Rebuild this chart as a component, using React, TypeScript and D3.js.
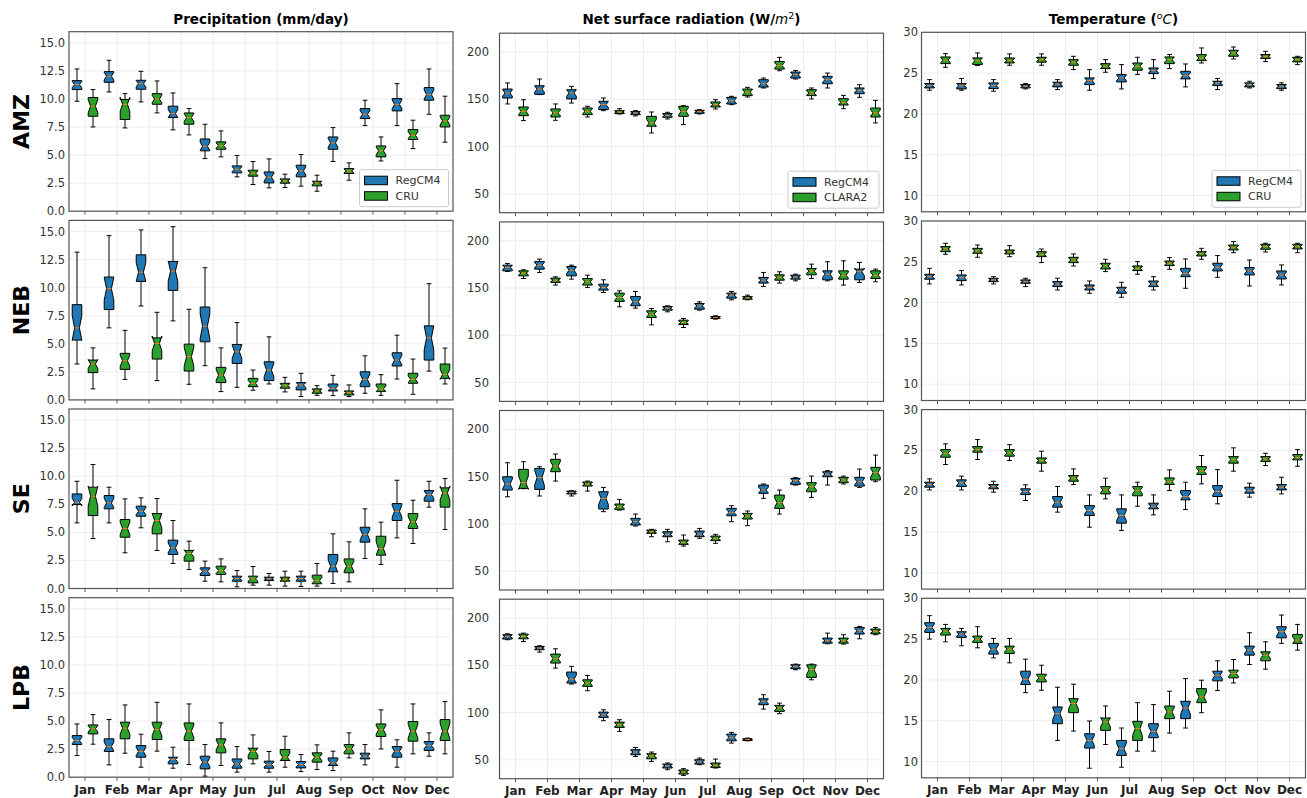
import React from "react";
import * as d3 from "d3";

// ---------- data: each box = [whisker low, q1, median, q3, whisker high] ----------
const months = ["Jan", "Feb", "Mar", "Apr", "May", "Jun", "Jul", "Aug", "Sep", "Oct", "Nov", "Dec"];
const regions = ["AMZ", "NEB", "SE", "LPB"];
const colTitles = ["Precipitation (mm/day)", "Net surface radiation", "Temperature"];
const modelName = "RegCM4";
const obsNames = ["CRU", "CLARA2", "CRU"];
const precipTicks = [0, 2.5, 5, 7.5, 10, 12.5, 15];
const radTicks = [50, 100, 150, 200];
const tempTicks = [10, 15, 20, 25, 30];
const nYears = 20;

const prAMZ_reg = [[9.8,10.84,11.29,11.64,12.68],[10.63,11.49,12.03,12.44,13.45],[9.74,10.87,11.37,11.67,12.47],[7.25,8.35,8.7,9.36,10.54],[4.69,5.38,5.79,6.44,7.75],[3.06,3.42,3.74,4.04,4.96],[2.08,2.52,3.03,3.5,4.66],[2.23,3.06,3.59,4.1,5.05],[4.43,5.52,6.09,6.62,7.45],[7.63,8.26,8.64,9.15,9.89],[7.63,8.94,9.53,10.04,11.37],[8.64,9.89,10.4,11.02,12.68]];
const prAMZ_obs = [[7.51,8.46,9.36,10.13,10.84],[7.42,8.17,9.53,9.95,10.48],[8.76,9.53,10.0,10.48,11.61],[6.8,7.75,8.35,8.76,9.15],[4.84,5.52,5.85,6.18,7.16],[2.38,3.12,3.39,3.65,4.43],[2.11,2.49,2.7,2.88,3.3],[1.78,2.26,2.52,2.67,3.21],[2.76,3.36,3.59,3.8,4.31],[4.48,4.84,5.38,5.82,6.62],[5.58,6.39,6.77,7.28,8.11],[6.15,7.51,8.05,8.55,10.25]];
const prNEB_reg = [[3.2,5.33,6.42,8.49,13.17],[6.42,8.05,9.91,10.95,14.64],[8.37,10.56,11.39,12.93,15.15],[7.04,9.76,11.48,12.34,15.44],[3.05,5.18,6.57,8.28,11.78],[1.12,3.25,4.29,4.94,6.89],[1.42,1.72,2.66,3.4,5.62],[0.3,0.89,1.33,1.54,2.37],[0.38,0.8,1.04,1.42,2.19],[0.59,1.18,1.83,2.51,3.93],[1.86,3.02,3.55,4.2,5.77],[2.57,3.55,5.53,6.6,10.36]];
const prNEB_obs = [[0.98,2.43,3.2,3.55,4.64],[1.83,2.72,3.49,4.15,6.2],[1.72,3.64,5.03,5.53,7.81],[1.39,2.57,3.85,4.97,8.08],[0.74,1.54,2.22,2.9,4.64],[0.86,1.18,1.48,1.92,2.66],[0.71,1.04,1.27,1.48,2.01],[0.41,0.59,0.8,0.98,1.27],[0.3,0.44,0.65,0.8,1.33],[0.41,0.74,0.98,1.42,2.25],[0.5,1.48,1.83,2.37,3.64],[1.42,1.92,2.28,3.2,4.62]];
const prSE_reg = [[5.85,7.48,7.69,8.43,9.56],[5.85,7.1,7.63,8.29,9.03],[5.41,6.44,6.89,7.34,8.08],[2.23,3.03,3.62,4.31,6.06],[0.65,1.16,1.54,1.84,2.44],[0.15,0.65,0.89,1.1,1.6],[0.3,0.71,0.86,1.01,1.34],[0.18,0.65,0.89,1.1,1.54],[0.45,1.49,1.99,3.03,4.87],[2.67,4.13,4.81,5.46,7.1],[4.51,6.06,6.89,7.57,9.65],[7.25,7.78,8.38,8.73,9.56]];
const prSE_obs = [[4.45,6.5,8.23,9.03,11.05],[3.18,4.57,5.35,6.15,7.99],[3.39,4.87,6.06,6.68,8.02],[1.69,2.44,3.12,3.39,4.22],[0.59,1.25,1.6,1.99,2.64],[0.3,0.5,0.86,1.1,1.96],[0.21,0.65,0.83,1.01,1.54],[0.21,0.42,0.71,1.19,2.23],[0.59,1.4,1.99,2.64,4.16],[2.14,2.97,3.56,4.66,5.91],[4.01,5.35,5.94,6.68,7.87],[5.26,7.25,8.52,8.97,9.8]];
const prLPB_reg = [[1.93,2.91,3.27,3.71,4.75],[1.1,2.29,2.73,3.42,5.14],[0.89,1.78,2.29,2.82,3.83],[0.8,1.19,1.57,1.78,2.67],[0.09,0.74,1.34,1.87,2.91],[0.45,0.8,1.19,1.63,2.73],[0.45,0.8,1.13,1.43,2.29],[0.5,0.83,1.13,1.4,2.02],[0.59,1.04,1.28,1.72,2.32],[1.1,1.63,1.87,2.14,2.91],[0.89,1.78,2.32,2.73,3.33],[1.87,2.38,2.82,3.18,3.95]];
const prLPB_obs = [[2.94,3.86,4.31,4.66,5.58],[2.14,3.42,4.37,4.9,6.44],[2.32,3.36,4.25,4.9,6.68],[1.13,3.27,4.1,4.84,6.53],[1.04,2.17,2.88,3.42,4.84],[1.19,1.63,2.29,2.58,3.77],[0.89,1.49,1.78,2.47,3.65],[0.68,1.34,1.78,2.17,2.88],[1.72,2.08,2.52,2.91,3.95],[2.52,3.62,4.22,4.75,6.0],[2.08,3.21,4.1,4.96,6.53],[2.08,3.27,4.1,5.14,6.74]];

const rnAMZ_reg = [[145.1,151.4,156.7,160.9,167.3],[155.0,155.3,160.9,164.4,171.5],[146.1,150.4,156.7,160.2,163.7],[138.0,139.1,144.4,147.9,151.4],[132.4,133.8,135.6,137.0,138.0],[129.2,131.0,133.1,134.9,136.3],[134.5,135.2,137.0,138.4,139.1],[144.4,145.1,148.6,152.1,153.2],[162.0,163.0,166.5,170.8,172.5],[171.5,172.5,176.1,178.9,180.6],[162.0,166.5,170.8,174.3,177.8],[152.1,156.0,159.5,162.0,165.5]];
const rnAMZ_obs = [[127.5,132.7,137.3,141.9,149.6],[127.8,131.3,135.6,139.8,145.1],[131.3,133.8,137.3,140.8,142.6],[134.5,134.9,136.6,138.0,140.1],[114.4,121.5,125.0,132.0,136.6],[123.2,132.0,137.3,142.6,143.3],[139.8,141.9,144.4,147.2,149.6],[152.5,153.9,157.4,160.9,162.7],[180.3,182.0,185.9,190.1,194.4],[150.4,153.9,156.7,160.2,162.0],[140.1,144.0,146.8,150.7,154.2],[125.0,131.3,135.6,140.8,148.9]];
const rnNEB_reg = [[167.5,168.2,171.8,174.2,176.0],[166.5,170.0,174.2,178.1,180.6],[159.4,162.9,168.9,172.8,174.2],[145.3,147.8,150.6,154.1,158.7],[128.7,131.2,135.4,141.1,146.3],[124.8,126.6,128.7,130.5,131.2],[126.6,127.6,131.2,133.6,135.4],[137.5,139.3,142.5,144.6,146.3],[151.6,155.2,158.3,161.2,166.5],[157.6,159.4,161.5,163.6,164.7],[157.6,158.7,164.7,168.2,177.8],[155.9,158.7,167.2,170.0,177.1]];
const rnNEB_obs = [[160.1,162.9,165.8,168.2,169.3],[153.1,155.9,158.3,160.5,161.9],[150.6,153.1,156.6,160.1,163.6],[130.1,135.8,140.0,144.6,147.1],[111.0,118.8,122.3,125.9,128.3],[108.2,111.4,113.5,116.0,117.8],[117.1,117.8,118.8,119.9,120.6],[137.5,138.2,139.6,141.1,142.5],[155.2,158.3,161.2,164.0,167.2],[160.1,164.0,167.9,170.7,175.3],[153.1,159.4,163.6,168.2,178.8],[156.6,160.1,163.6,168.2,170.0]];
const rnSE_reg = [[128.7,135.8,142.2,149.9,164.7],[129.5,136.5,148.9,158.7,160.5],[129.5,131.6,133.3,134.7,135.1],[112.9,115.7,127.0,134.0,138.6],[97.7,98.8,102.3,105.8,110.4],[81.1,86.4,88.9,91.7,94.2],[84.7,86.4,89.2,92.4,95.2],[102.3,108.6,112.2,116.4,119.2],[127.0,132.3,135.8,141.1,142.2],[141.1,141.8,145.7,148.1,148.9],[141.1,149.9,152.7,155.2,156.3],[138.6,140.0,144.6,149.2,158.0]];
const rnSE_obs = [[137.2,137.6,143.6,157.7,165.8],[145.3,155.2,161.2,168.3,173.9],[134.7,140.0,142.2,144.3,145.3],[114.6,115.3,118.2,121.0,125.9],[86.4,90.0,91.7,93.5,94.2],[76.5,78.3,80.4,82.9,88.2],[79.4,82.2,84.7,87.1,88.9],[98.1,105.1,108.3,111.1,113.6],[110.4,116.4,122.4,130.5,135.8],[128.0,134.0,139.3,143.6,150.6],[142.2,143.6,146.4,149.2,150.6],[144.6,146.4,154.1,159.8,172.8]];
const rnLPB_reg = [[177.1,177.8,180.6,182.4,183.4],[164.0,166.5,168.3,170.0,170.7],[130.2,131.2,135.4,142.9,148.9],[91.4,94.9,97.7,100.5,103.0],[53.6,55.4,58.2,60.7,63.1],[39.5,41.3,43.7,45.5,46.6],[44.8,45.5,47.6,50.1,51.8],[67.7,70.1,73.7,77.2,79.0],[103.7,108.3,111.8,114.6,118.9],[145.3,146.4,148.9,150.6,151.3],[172.8,173.5,176.0,178.8,184.1],[178.1,183.1,186.6,190.1,191.2]];
const rnLPB_obs = [[175.3,178.1,180.6,183.1,184.1],[147.1,152.4,157.0,161.9,167.5],[123.1,127.7,131.2,134.7,139.3],[80.1,84.3,87.1,89.9,92.4],[48.3,51.1,54.3,56.4,58.2],[33.5,34.9,37.0,39.2,40.6],[41.3,42.0,44.1,46.6,50.8],[70.1,70.5,71.6,72.3,73.0],[98.8,101.2,104.8,107.6,110.0],[134.7,137.2,145.3,150.6,151.3],[172.5,173.5,176.0,178.8,182.4],[182.4,183.4,185.9,188.4,190.1]];

const tAMZ_reg = [[22.9,23.18,23.47,23.71,24.2],[22.9,23.06,23.47,23.71,24.33],[22.78,23.1,23.47,23.8,24.2],[23.06,23.18,23.39,23.59,23.71],[22.98,23.31,23.67,23.88,24.2],[22.9,23.59,24.08,24.41,25.43],[23.06,23.92,24.41,24.82,26.04],[24.33,24.94,25.31,25.63,26.65],[23.31,24.29,24.69,25.22,26.12],[22.98,23.47,23.8,24.0,24.33],[23.18,23.31,23.59,23.8,24.0],[22.9,23.1,23.39,23.59,23.8]];
const tAMZ_obs = [[25.71,26.16,26.57,26.98,27.39],[25.92,26.04,26.53,26.86,27.47],[25.96,26.24,26.53,26.86,27.35],[25.96,26.33,26.65,26.94,27.35],[25.43,25.96,26.33,26.65,27.06],[25.1,25.55,25.84,26.16,26.65],[24.82,25.35,25.84,26.24,26.94],[25.55,26.16,26.65,26.98,27.27],[26.24,26.53,26.86,27.27,28.08],[26.73,27.06,27.47,27.8,28.2],[26.41,26.78,27.06,27.27,27.67],[26.04,26.37,26.65,26.94,27.06]];
const tNEB_reg = [[22.29,22.86,23.18,23.47,24.2],[22.16,22.69,23.06,23.39,23.92],[22.29,22.57,22.78,22.98,23.18],[21.96,22.37,22.57,22.78,22.98],[21.55,21.96,22.29,22.57,22.98],[21.14,21.55,21.84,22.16,22.65],[20.65,21.14,21.55,21.88,22.49],[21.55,21.96,22.29,22.65,23.18],[21.76,23.18,23.59,24.2,25.35],[23.1,23.88,24.33,24.82,25.76],[22.04,23.39,23.88,24.29,25.22],[22.16,22.9,23.39,23.88,24.61]];
const tNEB_obs = [[25.92,26.24,26.57,26.86,27.27],[25.55,26.04,26.33,26.65,27.06],[25.63,25.96,26.2,26.45,26.98],[24.9,25.63,25.92,26.24,26.57],[24.49,24.9,25.22,25.55,25.96],[23.8,24.12,24.49,24.82,25.31],[23.47,23.92,24.2,24.49,25.02],[24.08,24.53,24.82,25.1,25.51],[25.31,25.71,26.0,26.24,26.65],[26.12,26.45,26.73,27.06,27.47],[26.2,26.53,26.86,27.14,27.27],[26.12,26.57,26.86,27.14,27.27]];
const tSE_reg = [[20.16,20.49,20.82,21.1,21.51],[20.16,20.57,21.02,21.39,21.84],[19.88,20.29,20.57,20.82,21.22],[18.86,19.59,19.96,20.29,20.78],[17.43,18.04,18.65,19.35,20.57],[15.59,17.02,17.63,18.24,19.55],[15.18,16.08,17.02,17.84,19.55],[17.1,17.84,18.16,18.53,19.55],[17.76,18.94,19.35,20.08,21.1],[18.45,19.35,19.96,20.69,22.65],[19.27,19.76,20.08,20.49,20.98],[19.67,20.16,20.49,20.82,21.71]];
const tSE_obs = [[23.27,24.16,24.65,25.1,25.8],[23.88,24.78,25.1,25.47,26.33],[23.76,24.29,24.69,25.1,25.71],[22.45,23.43,23.76,24.08,24.9],[20.82,21.22,21.59,21.92,22.73],[19.06,19.67,20.16,20.57,21.59],[18.16,19.43,20.08,20.57,21.1],[20.08,20.82,21.18,21.63,22.61],[20.9,22.04,22.45,23.02,24.37],[22.45,23.43,23.88,24.24,25.31],[23.14,23.63,23.96,24.24,24.65],[23.06,23.84,24.16,24.49,25.1]];
const tLPB_reg = [[25.0,25.82,26.43,27.01,27.87],[24.18,25.2,25.61,25.9,26.31],[22.7,23.16,23.77,24.47,25.08],[18.44,19.43,20.08,21.07,22.54],[12.58,14.63,15.86,16.68,19.1],[9.18,11.64,12.58,13.4,14.96],[9.3,10.74,11.56,12.58,14.1],[11.27,12.91,13.69,14.63,16.97],[14.1,15.25,16.56,17.38,20.16],[18.69,19.88,20.57,21.07,22.34],[21.89,23.03,23.65,24.14,25.78],[24.47,25.16,25.9,26.52,27.95]];
const tLPB_obs = [[24.67,25.49,25.98,26.31,26.8],[23.93,24.59,25.0,25.37,26.52],[22.09,23.24,23.77,24.14,25.08],[18.73,19.75,20.25,20.7,21.8],[13.73,15.98,17.09,17.7,19.47],[12.09,13.81,14.84,15.33,16.8],[11.27,12.58,14.02,14.92,17.21],[13.48,15.25,16.07,16.8,18.61],[15.98,17.21,17.91,18.93,19.96],[19.63,20.25,20.78,21.19,22.5],[21.31,22.34,23.03,23.44,24.67],[23.65,24.47,24.88,25.57,26.8]];

// panel table [row][col] -> [model, obs]
const panelData = [
  [[prAMZ_reg, prAMZ_obs], [rnAMZ_reg, rnAMZ_obs], [tAMZ_reg, tAMZ_obs]],
  [[prNEB_reg, prNEB_obs], [rnNEB_reg, rnNEB_obs], [tNEB_reg, tNEB_obs]],
  [[prSE_reg, prSE_obs], [rnSE_reg, rnSE_obs], [tSE_reg, tSE_obs]],
  [[prLPB_reg, prLPB_obs], [rnLPB_reg, rnLPB_obs], [tLPB_reg, tLPB_obs]],
];

// ---------- layout / style ----------
const W = 1307, H = 798;
const PW = 384, PH = 179.5;
const colLeft = [69, 499.5, 921.5];
const colDy = [0, 1.5, 0.6];
const rowTop = [31.7, 220.4, 409.0, 597.7];
const yDomains = [[0, 16], [30, 220], [8, 30]];
const yTicks = [precipTicks, radTicks, tempTicks];
const yFmt = [(v: number) => v.toFixed(1), (v: number) => String(v), (v: number) => String(v)];
const labelGap = [4, 10.5, 3.5];
const BLUE = "#1f77b4", GREEN = "#2ca02c", ORANGE = "#ff7f0e";
const FONT = "DejaVu Sans, sans-serif";
const BOXW = 0.6;

function BoxPlot({ pos, s, x, y, fill }: any) {
  const [lo, q1, med, q3, hi] = s;
  const half = (1.57 * (q3 - q1)) / Math.sqrt(nYears);
  const cilo = med - half, cihi = med + half;
  const bl = x(pos - BOXW / 2), br = x(pos + BOXW / 2);
  const nl = x(pos - BOXW / 4), nr = x(pos + BOXW / 4);
  const cl = x(pos - BOXW / 4), cr = x(pos + BOXW / 4);
  const cx = x(pos);
  const pts: [number, number][] = [
    [bl, y(q1)], [br, y(q1)], [br, y(cilo)], [nr, y(med)], [br, y(cihi)], [br, y(q3)],
    [bl, y(q3)], [bl, y(cihi)], [nl, y(med)], [bl, y(cilo)], [bl, y(q1)],
  ];
  const path = d3.line()(pts) + "Z";
  return (
    <g>
      <line x1={cx} x2={cx} y1={y(q1)} y2={y(lo)} stroke="#000" strokeWidth={1} />
      <line x1={cx} x2={cx} y1={y(q3)} y2={y(hi)} stroke="#000" strokeWidth={1} />
      <line x1={cl} x2={cr} y1={y(lo)} y2={y(lo)} stroke="#000" strokeWidth={1} />
      <line x1={cl} x2={cr} y1={y(hi)} y2={y(hi)} stroke="#000" strokeWidth={1} />
      <path d={path} fill={fill} stroke="#000" strokeWidth={1} strokeLinejoin="miter" />
      <line x1={nl} x2={nr} y1={y(med)} y2={y(med)} stroke={ORANGE} strokeWidth={1} />
    </g>
  );
}

function Legend({ right, bottom, obs }: any) {
  const w = obs === "CLARA2" ? 91 : 89;
  const h = 37;
  const lx = right - w, ly = bottom - h;
  const items = [[modelName, BLUE], [obs, GREEN]];
  return (
    <g>
      <rect x={lx} y={ly} width={w} height={h} rx={2} fill="#fff" fillOpacity={0.85} stroke="#ccc" strokeWidth={1} />
      {items.map(([name, c], i) => (
        <g key={name + i}>
          <rect x={lx + 5} y={ly + 6.5 + i * 15.5} width={23} height={8.5} fill={c} stroke="#000" strokeWidth={1} />
          <text x={lx + 36} y={ly + 10.75 + i * 15.5} dy="0.35em" fontFamily={FONT} fontSize={11} fill="#333">{name}</text>
        </g>
      ))}
    </g>
  );
}

function Panel({ row, col }: any) {
  const left = colLeft[col];
  const top = rowTop[row] + colDy[col];
  const x = d3.scaleLinear().domain([0.5, 24.5]).range([left, left + PW]);
  const y = d3.scaleLinear().domain(yDomains[col]).range([top + PH, top]);
  const [reg, obs] = panelData[row][col];
  const monthPos = months.map((_, i) => 2 * i + 1.5);
  return (
    <g>
      <rect x={left} y={top} width={PW} height={PH} fill="#fff" />
      {monthPos.map((p, i) => (
        <line key={"gx" + i} x1={x(p)} x2={x(p)} y1={top} y2={top + PH} stroke="#e8e8e8" strokeWidth={0.8} />
      ))}
      {yTicks[col].map((t, i) => (
        <line key={"gy" + i} x1={left} x2={left + PW} y1={y(t)} y2={y(t)} stroke="#e8e8e8" strokeWidth={0.8} />
      ))}
      {reg.map((s: number[], i: number) => (
        <BoxPlot key={"r" + i} pos={2 * i + 1} s={s} x={x} y={y} fill={BLUE} />
      ))}
      {obs.map((s: number[], i: number) => (
        <BoxPlot key={"o" + i} pos={2 * i + 2} s={s} x={x} y={y} fill={GREEN} />
      ))}
      <rect x={left} y={top} width={PW} height={PH} fill="none" stroke="#555" strokeWidth={1.2} />
      {monthPos.map((p, i) => (
        <line key={"tx" + i} x1={x(p)} x2={x(p)} y1={top + PH} y2={top + PH + 3.5} stroke="#555" strokeWidth={1} />
      ))}
      {yTicks[col].map((t, i) => (
        <text key={"ty" + i} x={left - labelGap[col]} y={y(t)} dy="0.35em" textAnchor="end"
          fontFamily={FONT} fontSize={11.5} fill="#333">{yFmt[col](t)}</text>
      ))}
      {row === 3 && monthPos.map((p, i) => (
        <text key={"ml" + i} x={x(p)} y={top + PH + 16.5} textAnchor="middle" fontFamily={FONT}
          fontSize={12} fontWeight="bold" fill="#222">{months[i]}</text>
      ))}
      {row === 0 && <Legend right={left + PW - 4.5} bottom={top + PH - 4.5} obs={obsNames[col]} />}
    </g>
  );
}

export default function App() {
  const titleY = 24;
  const tfs = 13.5;
  return (
    <svg width={W} height={H} style={{ position: "absolute", left: 0, top: 0, background: "#fff" }}>
      <rect x={0} y={0} width={W} height={H} fill="#fff" />
      {regions.map((r, ri) =>
        [0, 1, 2].map((ci) => <Panel key={r + ci} row={ri} col={ci} />)
      )}
      <text x={colLeft[0] + PW / 2} y={titleY} textAnchor="middle" fontFamily={FONT} fontSize={tfs} fontWeight="bold">
        {colTitles[0]}
      </text>
      <text x={colLeft[1] + PW / 2} y={titleY} textAnchor="middle" fontFamily={FONT} fontSize={tfs} fontWeight="bold">
        {colTitles[1]} (W/<tspan fontStyle="italic" fontWeight="normal">m</tspan>
        <tspan fontSize={9.5} fontWeight="normal" dy={-5}>2</tspan>
        <tspan dy={5}>)</tspan>
      </text>
      <text x={colLeft[2] + PW / 2} y={titleY} textAnchor="middle" fontFamily={FONT} fontSize={tfs} fontWeight="bold">
        {colTitles[2]} (<tspan fontSize={9.5} fontStyle="italic" fontWeight="normal" dy={-5}>o</tspan>
        <tspan fontStyle="italic" fontWeight="normal" dy={5}>C</tspan>)
      </text>
      {regions.map((r, ri) => (
        <text key={r} transform={`translate(29,${rowTop[ri] + PH / 2}) rotate(-90)`} textAnchor="middle"
          fontFamily={FONT} fontSize={22} fontWeight="bold" fill="#000">{r}</text>
      ))}
    </svg>
  );
}
